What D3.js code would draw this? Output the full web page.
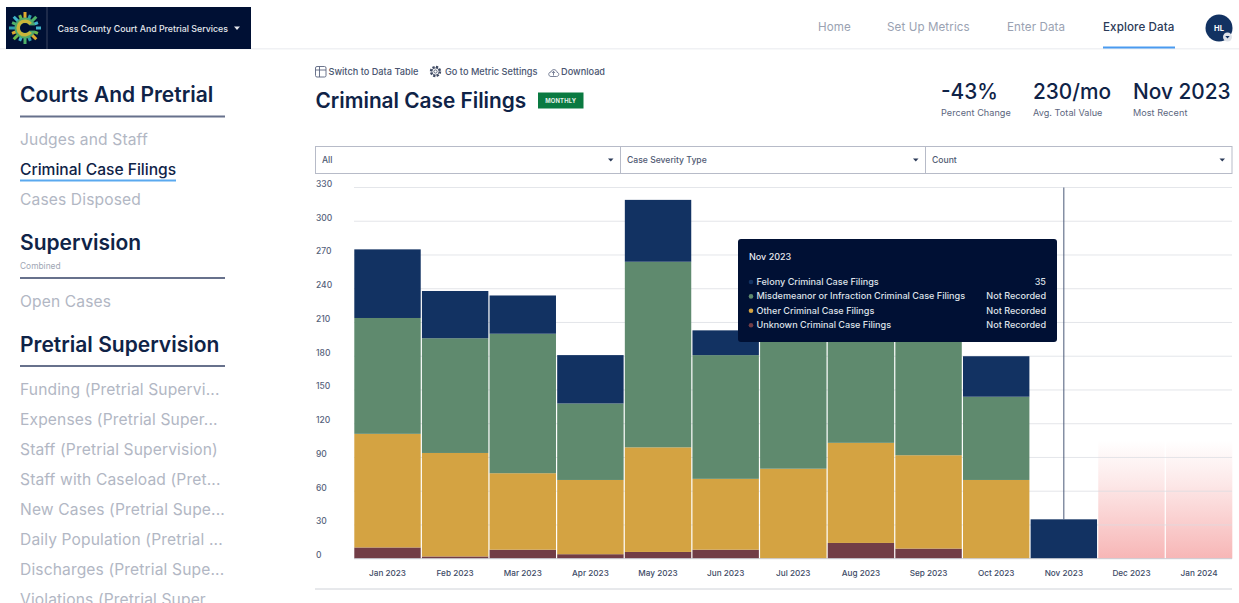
<!DOCTYPE html>
<html>
<head>
<meta charset="utf-8">
<script src="https://cdnjs.cloudflare.com/ajax/libs/d3/7.8.5/d3.min.js"></script>
<style>
  html, body { margin: 0; padding: 0; background: #fff; overflow: hidden; }
  svg { display: block; font-family: Inter, "DejaVu Sans", sans-serif; }
</style>
</head>
<body>
<svg id="page" width="1239" height="603"></svg>
<script>
// values are read off the picture, Jul-Sep tops sit behind the tooltip so those are guesses
var months = ["Jan 2023", "Feb 2023", "Mar 2023", "Apr 2023", "May 2023", "Jun 2023", "Jul 2023",
              "Aug 2023", "Sep 2023", "Oct 2023", "Nov 2023", "Dec 2023", "Jan 2024"]
var unknownFilings = [10, 2, 8, 4, 6, 8, 0, 14, 9, 0, 0, 0, 0]
var otherFilings = [101, 92, 68, 66, 93, 63, 80, 89, 83, 70, 0, 0, 0]
var misdemeanorFilings = [103, 102, 124, 68, 165, 110, 120, 110, 118, 74, 0, 0, 0]
var felonyFilings = [61, 42, 34, 43, 55, 22, 30, 30, 30, 36, 35, 0, 0]
var yTicks = [0, 30, 60, 90, 120, 150, 180, 210, 240, 270, 300, 330]
var missingMonths = ["Dec 2023", "Jan 2024"]

var seriesKeys = ["unknown", "other", "misdemeanor", "felony"]
var seriesColors = { unknown: "#723d46", other: "#d4a342", misdemeanor: "#5f8a6e", felony: "#123262" }

var tooltipRows = [
  ["Felony Criminal Case Filings", "35", "#123262"],
  ["Misdemeanor or Infraction Criminal Case Filings", "Not Recorded", "#5f8a6e"],
  ["Other Criminal Case Filings", "Not Recorded", "#d4a342"],
  ["Unknown Criminal Case Filings", "Not Recorded", "#723d46"]
]
var navItems = ["Home", "Set Up Metrics", "Enter Data", "Explore Data"]
var navX = [818, 887, 1007, 1103]
var stats = [["-43%", "Percent Change", 941], ["230/mo", "Avg. Total Value", 1033], ["Nov 2023", "Most Recent", 1133]]
var selects = [["All", 315.5, 620.5], ["Case Severity Type", 620.5, 925.5], ["Count", 925.5, 1232]]

var sidebar = [
  { text: "Courts And Pretrial", y: 102, head: true },
  { text: "Judges and Staff", y: 145 },
  { text: "Criminal Case Filings", y: 175, active: true },
  { text: "Cases Disposed", y: 205 },
  { text: "Supervision", y: 250, head: true },
  { text: "Open Cases", y: 307 },
  { text: "Pretrial Supervision", y: 352, head: true },
  { text: "Funding (Pretrial Supervi...", y: 395 },
  { text: "Expenses (Pretrial Super...", y: 425 },
  { text: "Staff (Pretrial Supervision)", y: 455 },
  { text: "Staff with Caseload (Pret...", y: 485 },
  { text: "New Cases (Pretrial Supe...", y: 515 },
  { text: "Daily Population (Pretrial ...", y: 545 },
  { text: "Discharges (Pretrial Supe...", y: 575 },
  { text: "Violations (Pretrial Super...", y: 605 }
]
var headRules = [116.5, 278, 366]

var navy = "#001034"
var ink = "#0f2347"
var svg = d3.select("#page")

// chart area
var x = d3.scaleBand().domain(months).range([354.3, 1232.3]).paddingInner(0.018).paddingOuter(0)
var y = d3.scaleLinear().domain([0, 330]).range([558.7, 187.5])

var defs = svg.append("defs")
var fade = defs.append("linearGradient").attr("id", "missing").attr("x1", 0).attr("x2", 0).attr("y1", 0).attr("y2", 1)
fade.append("stop").attr("offset", "0%").attr("stop-color", "#f7b6b6").attr("stop-opacity", 0)
fade.append("stop").attr("offset", "35%").attr("stop-color", "#f7b6b6").attr("stop-opacity", 0.3)
fade.append("stop").attr("offset", "100%").attr("stop-color", "#f7b6b6").attr("stop-opacity", 1)

// y axis, labels sit left aligned above the gridline
var yAxis = d3.axisLeft(y).tickValues(yTicks).tickSize(0).tickPadding(0)
var yG = svg.append("g").attr("transform", "translate(316,0)").call(yAxis)
yG.select(".domain").remove()
yG.selectAll("text")
  .attr("font-family", "Inter").attr("font-size", 8.5).attr("font-weight", 500).attr("fill", "#55617a")
  .attr("text-anchor", "start").attr("x", 0)
  .attr("dy", -1)

// red "missing data" blocks go under the gridlines
svg.append("g").selectAll("rect")
  .data(missingMonths)
  .enter()
  .append("rect")
  .attr("x", d => x(d))
  .attr("width", x.bandwidth())
  .attr("y", y(105))
  .attr("height", y(0) - y(105))
  .attr("fill", "url(#missing)")

svg.append("g").selectAll("line")
  .data(yTicks.slice(1))
  .enter()
  .append("line")
  .attr("x1", 354).attr("x2", 1232)
  .attr("y1", d => y(d)).attr("y2", d => y(d))
  .attr("stroke", "#d9dbe1").attr("stroke-opacity", 0.7).attr("stroke-width", 1)

// bars
var table = months.map((m, i) => ({
  month: m,
  unknown: unknownFilings[i],
  other: otherFilings[i],
  misdemeanor: misdemeanorFilings[i],
  felony: felonyFilings[i]
}))
var stacked = d3.stack().keys(seriesKeys)(table)

svg.append("g").selectAll("g")
  .data(stacked)
  .enter()
  .append("g")
  .attr("fill", d => seriesColors[d.key])
  .selectAll("rect")
  .data(d => d)
  .enter()
  .append("rect")
  .attr("x", d => x(d.data.month))
  .attr("width", x.bandwidth())
  .attr("y", d => y(d[1]))
  .attr("height", d => y(d[0]) - y(d[1]))

// baseline
svg.append("line").attr("x1", 354).attr("x2", 1232).attr("y1", y(0)).attr("y2", y(0))
  .attr("stroke", "#c9ccd3")

// x axis
var xAxis = d3.axisBottom(x).tickSize(0).tickPadding(0)
var xG = svg.append("g").attr("transform", "translate(0,570.5)").call(xAxis)
xG.select(".domain").remove()
xG.selectAll("text")
  .attr("font-family", "Inter").attr("font-size", 8.2).attr("font-weight", 500).attr("fill", "#3d4a66")

svg.append("line").attr("x1", 315).attr("x2", 1232).attr("y1", 589).attr("y2", 589).attr("stroke", "#cfd2d8")

// hover line on Nov
var hoverX = x("Nov 2023") + x.bandwidth() / 2
svg.append("line").attr("x1", hoverX).attr("x2", hoverX).attr("y1", y(330)).attr("y2", y(35))
  .attr("stroke", "#4a5878").attr("stroke-width", 1)

// tooltip
var tip = svg.append("g").attr("transform", "translate(738,239)")
tip.append("rect").attr("width", 319).attr("height", 103).attr("rx", 3).attr("fill", navy)
tip.append("text").attr("x", 11).attr("y", 21).attr("font-size", 9).attr("font-weight", 500)
  .attr("fill", "#e8eaef").text("Nov 2023")
var tipRow = tip.selectAll(".row").data(tooltipRows).enter().append("g")
  .attr("class", "row")
  .attr("transform", (d, i) => "translate(0," + (43 + i * 14.4) + ")")
tipRow.append("circle").attr("cx", 13).attr("cy", 0).attr("r", 2.3).attr("fill", d => d[2])
tipRow.append("text").attr("x", 18.5).attr("y", 3).attr("font-size", 9.1).attr("font-weight", 500)
  .attr("fill", "#dfe2e9").text(d => d[0])
tipRow.append("text").attr("x", 308).attr("y", 3).attr("text-anchor", "end").attr("font-size", 9.1)
  .attr("font-weight", 500).attr("fill", "#dfe2e9").text(d => d[1])

// top bar
svg.append("rect").attr("x", 0).attr("y", 48).attr("width", 1239).attr("height", 1.5).attr("fill", "#f0f1f4")
svg.append("rect").attr("x", 6).attr("y", 7).attr("width", 245).attr("height", 42).attr("fill", navy)
svg.append("line").attr("x1", 47).attr("x2", 47).attr("y1", 7).attr("y2", 49).attr("stroke", "#3a4560")

// logo, a C shaped ring with small spokes
var logo = svg.append("g").attr("transform", "translate(25,28)")
var spokeColors = ["#3fb4c9", "#6cb84a", "#e0a92f", "#2f9fb0", "#4fb36a"]
logo.selectAll("line").data(d3.range(16)).enter().append("line")
  .attr("x1", d => 8 * Math.cos(d * Math.PI / 8)).attr("y1", d => 8 * Math.sin(d * Math.PI / 8))
  .attr("x2", d => (d % 2 ? 14 : 16) * Math.cos(d * Math.PI / 8)).attr("y2", d => (d % 2 ? 14 : 16) * Math.sin(d * Math.PI / 8))
  .attr("stroke", d => spokeColors[d % 5]).attr("stroke-width", 3)
logo.append("circle").attr("r", 10.5).attr("fill", "#4fa86a")
logo.append("path")
  .attr("d", d3.arc().innerRadius(5).outerRadius(8.6).startAngle(Math.PI * 0.7).endAngle(Math.PI * 2.3)())
  .attr("fill", "#c9b53a")
logo.append("circle").attr("r", 5).attr("fill", navy)
logo.append("rect").attr("x", 3).attr("y", -2.6).attr("width", 8).attr("height", 5.2).attr("fill", navy)

svg.append("text").attr("x", 57.5).attr("y", 31.5).attr("font-size", 8.8).attr("font-weight", 500)
  .attr("fill", "#e6e8ee").text("Cass County Court And Pretrial Services")
svg.append("path").attr("d", d3.line()([[234, 26.5], [240, 26.5], [237, 30]])).attr("fill", "#e6e8ee")

// nav
svg.selectAll(".nav").data(navItems).enter().append("text")
  .attr("class", "nav")
  .attr("x", (d, i) => navX[i]).attr("y", 31)
  .attr("font-size", 11.6).attr("letter-spacing", 0.1)
  .attr("font-weight", d => d == "Explore Data" ? 500 : 400)
  .attr("fill", d => d == "Explore Data" ? "#2b3a58" : "#9aa2b2")
  .text(d => d)
svg.append("rect").attr("x", 1103).attr("y", 46.5).attr("width", 72).attr("height", 2).attr("fill", "#4a9bf0")
svg.append("circle").attr("cx", 1219).attr("cy", 28).attr("r", 13.5).attr("fill", "#123262")
svg.append("text").attr("x", 1219).attr("y", 31).attr("text-anchor", "middle").attr("font-size", 7.5)
  .attr("font-weight", 700).attr("fill", "#fff").text("HL")
svg.append("circle").attr("cx", 1227.5).attr("cy", 37).attr("r", 4.5).attr("fill", "#dfe3ea")
svg.append("path").attr("d", d3.line()([[1225.3, 36], [1229.7, 36], [1227.5, 38.5]])).attr("fill", "#123262")

// sidebar
svg.selectAll(".side").data(sidebar).enter().append("text")
  .attr("class", "side")
  .attr("x", 20).attr("y", d => d.y)
  .attr("font-size", d => d.head ? 21 : 15.6)
  .attr("font-weight", d => d.head ? 600 : d.active ? 500 : 400)
  .attr("letter-spacing", d => d.head || d.active ? 0 : 0.13)
  .attr("fill", d => d.head || d.active ? ink : "#b2b7c4")
  .text(d => d.text)
svg.append("text").attr("x", 20).attr("y", 268.5).attr("font-size", 8.4).attr("fill", "#a0a6b4").text("Combined")
svg.selectAll(".rule").data(headRules).enter().append("rect")
  .attr("class", "rule")
  .attr("x", 20).attr("y", d => d - 1).attr("width", 205).attr("height", 2).attr("fill", "#67718c")
svg.append("rect").attr("x", 20).attr("y", 179.5).attr("width", 156).attr("height", 2).attr("fill", "#5aa9ef")

// toolbar
var toolbar = [["Switch to Data Table", 328.5], ["Go to Metric Settings", 445], ["Download", 561]]
svg.selectAll(".tool").data(toolbar).enter().append("text")
  .attr("class", "tool")
  .attr("x", d => d[1]).attr("y", 75)
  .attr("font-size", 9.2).attr("font-weight", 500).attr("fill", "#4a5570")
  .text(d => d[0])
var tableIcon = svg.append("g").attr("fill", "none").attr("stroke", "#5b6580").attr("stroke-width", 0.9)
tableIcon.append("rect").attr("x", 315.5).attr("y", 66.5).attr("width", 10.5).attr("height", 10.5).attr("rx", 1.5)
tableIcon.append("path").attr("d", "M315.5 70H326M319.5 66.5V77")
svg.append("circle").attr("cx", 435.5).attr("cy", 71.5).attr("r", 4.6).attr("fill", "none")
  .attr("stroke", "#3f4a63").attr("stroke-width", 2.2).attr("stroke-dasharray", "2.2 1.4")
svg.append("circle").attr("cx", 435.5).attr("cy", 71.5).attr("r", 3.6).attr("fill", "none").attr("stroke", "#3f4a63").attr("stroke-width", 0.8)
svg.append("circle").attr("cx", 435.5).attr("cy", 71.5).attr("r", 1.6).attr("fill", "none").attr("stroke", "#3f4a63").attr("stroke-width", 0.8)
// download cloud
svg.append("path")
  .attr("d", "M551 76.5H556.5C559.5 76.5 559.5 72.5 557 72.3C556.5 68.8 551.5 68.8 551 72C548 72 548 76.5 551 76.5Z")
  .attr("fill", "none").attr("stroke", "#5b6580").attr("stroke-width", 0.8)
svg.append("path").attr("d", "M553.5 75.5V71.5M552 73L553.5 71.3L555 73").attr("fill", "none").attr("stroke", "#5b6580").attr("stroke-width", 0.8)

// title row
svg.append("text").attr("x", 315.5).attr("y", 108).attr("font-size", 20.8).attr("font-weight", 600)
  .attr("fill", ink).text("Criminal Case Filings")
svg.append("rect").attr("x", 538).attr("y", 92.5).attr("width", 45.5).attr("height", 16).attr("fill", "#0a7a41")
svg.append("text").attr("x", 560.7).attr("y", 102.8).attr("text-anchor", "middle").attr("font-size", 5.8)
  .attr("font-weight", 700).attr("letter-spacing", 0.2).attr("fill", "#e6f2ea").text("MONTHLY")

// stats
var stat = svg.selectAll(".stat").data(stats).enter().append("g").attr("class", "stat")
stat.append("text").attr("x", d => d[2]).attr("y", 99).attr("font-size", 20.8).attr("font-weight", 500)
  .attr("fill", ink).text(d => d[0])
stat.append("text").attr("x", d => d[2]).attr("y", 115.5).attr("font-size", 9.1).attr("font-weight", 400)
  .attr("letter-spacing", 0.05).attr("fill", "#5c667e").text(d => d[1])

// dropdowns
var sel = svg.selectAll(".sel").data(selects).enter().append("g").attr("class", "sel")
sel.append("rect").attr("x", d => d[1]).attr("y", 146.5).attr("width", d => d[2] - d[1]).attr("height", 27)
  .attr("fill", "#fff").attr("stroke", "#b7bbc8")
sel.append("text").attr("x", d => d[1] + 6.5).attr("y", 163).attr("font-size", 8.6).attr("font-weight", 500)
  .attr("fill", "#4f5a73").text(d => d[0])
sel.append("path").attr("d", d => d3.line()([[d[2] - 12.5, 158.5], [d[2] - 7, 158.5], [d[2] - 9.7, 161.5]]))
  .attr("fill", "#2b3a58")
</script>
</body>
</html>
